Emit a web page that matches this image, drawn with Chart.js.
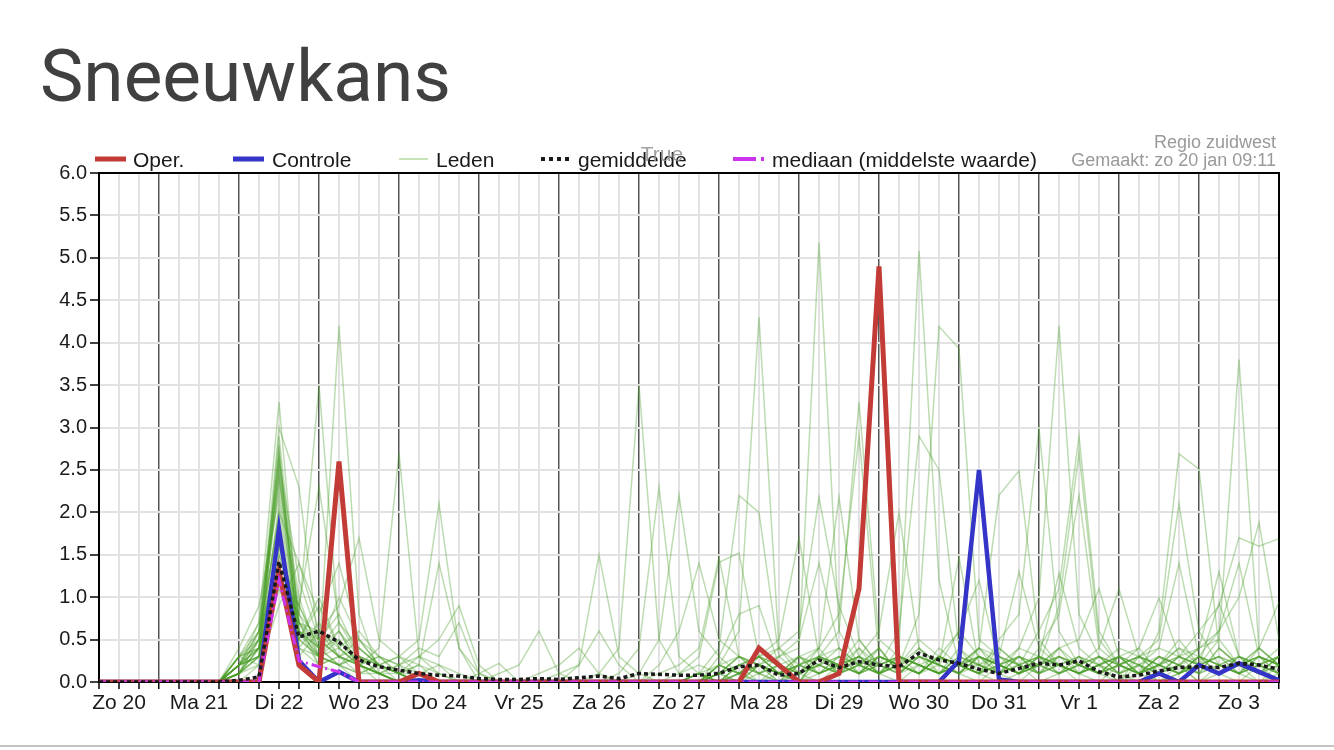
<!DOCTYPE html>
<html lang="nl">
<head>
<meta charset="utf-8">
<title>Sneeuwkans</title>
<script src="https://cdn.jsdelivr.net/npm/chart.js@4.4.1/dist/chart.umd.min.js"></script>
<style>
    html, body { margin: 0; padding: 0; background: #fff; }
    body { width: 1334px; height: 750px; position: relative; overflow: hidden; }
    h1 {
        position: absolute; left: 40px; top: 40px; margin: 0;
        font-family: Roboto, "Noto Sans", sans-serif; font-weight: 400;
        font-size: 73px; line-height: 73px; color: #404040;
    }
    #sneeuw { position: absolute; left: 0; top: 0; }
    .rule { position: absolute; left: 0; top: 745px; width: 1334px; height: 2px; background: #c4c4c4; }
</style>
</head>
<body>
<h1>Sneeuwkans</h1>
<canvas id="sneeuw" width="1334" height="750"></canvas>
<div class="rule"></div>

<script>
    "use strict";

    // Days on the x axis (6-hourly steps, Zo 20 06:00 .. Ma 4 00:00)
    var dayNames = ['Zo 20', 'Ma 21', 'Di 22', 'Wo 23', 'Do 24', 'Vr 25', 'Za 26', 'Zo 27',
                    'Ma 28', 'Di 29', 'Wo 30', 'Do 31', 'Vr 1', 'Za 2', 'Zo 3', 'Ma 4'];
    var dayHours = ['00', '06', '12', '18'];
    var yTicks = [0, 0.5, 1, 1.5, 2, 2.5, 3, 3.5, 4, 4.5, 5, 5.5, 6];

    var seriesNames = ['Oper.', 'Controle', 'Leden', 'gemiddelde', 'mediaan (middelste waarde)'];
    var regioText = 'Regio zuidwest';
    var gemaaktText = 'Gemaakt: zo 20 jan 09:11';

    // Operationele run
    var oper = [0,0,0,0,0,0,0,0,0,1.3, .2,0,2.6,0,0,0,.1,0,0,0, 0,0,0,0,0,0,0,0,0,0,
                0,0,0,.4,.2,0,0,.1,1.1,4.9, 0,0,0,0,0,0,0,0,0,0, 0,0,0,0,0,0,0,0,0,0];

    // Controle run
    var controle = [0,0,0,0,0,0,0,0,0,1.8, .25,0,.12,0,0,0,.02,0,0,0, 0,0,0,0,0,0,0,0,0,0,
                    0,0,0,0,0,0,0,0,0,0, 0,0,0,.25,2.5,.03,0,0,0,0, 0,0,0,.1,0,.2,.1,.22,.12,.02];

    // Ensemble gemiddelde
    var gemiddelde = [0,0,0,0,0,0,0,.02,.06,1.42, .53,.6,.47,.26,.18,.14,.1,.08,.07,.04,
                      .03,.03,.04,.03,.05,.07,.04,.1,.09,.08, .08,.1,.18,.2,.08,.1,.26,.17,.24,.2,
                      .18,.34,.26,.22,.15,.1,.16,.22,.2,.25, .12,.06,.08,.13,.17,.18,.17,.22,.2,.15];

    // Ensemble mediaan
    var mediaan = [0,0,0,0,0,0,0,0,0,1.2, .25,.18,.12,0,0,0,0,0,0,0, 0,0,0,0,0,0,0,0,0,0,
                   0,0,0,0,0,0,0,0,0,0, 0,0,0,0,0,0,0,0,0,0, 0,0,0,0,0,0,0,0,0,0];

    // Leden (ensemble members)
    var lid01 = [0,0,0,0,0,0,0,.2,.7,3.3, .6,.2,.1,0,0,0,0,0,0,0, 0,0,0,0,0,0,0,0,0,0, 0,.1,.3,.2,0,.1,.4,.8,2.9,.3, .2,.5,.3,.1,0,.2,.1,.3,.2,0, 0,0,.1,.2,.4,.3,.1,0,.2,.1];
    var lid02 = [0,0,0,0,0,0,0,.1,.5,3.0, 2.3,.4,.2,0,0,0,0,0,0,0, 0,0,0,0,0,0,0,0,0,0, 0,0,.2,.3,.1,0,.2,.1,.3,.6, 2.0,.4,.2,.6,.3,.1,0,.2,.1,.3, .2,0,0,.1,.3,.2,.5,.2,.1,0];
    var lid03 = [0,0,0,0,0,0,0,.3,.4,1.2, .8,3.5,.6,.2,0,0,0,0,0,.1, .22,0,0,0,0,0,0,0,0,0, .1,0,0,.2,.1,0,.3,.4,.2,.1, .4,5.08,1.2,.2,.2,.4,.2,.1,.3,.2, .1,0,.2,0,.1,.3,.2,.1,.4,.2];
    var lid04 = [0,0,0,0,0,0,0,0,.2,1.5, .6,.3,4.2,.8,.1,0,0,0,0,0, 0,0,0,0,0,0,0,0,0,0, 0,.2,.1,0,0,.3,.1,.2,.5,.2, .6,2.9,2.5,.4,.1,0,.1,.2,.4,.1, 0,.2,.1,.3,.2,0,.1,.2,.1,.3];
    var lid05 = [0,0,0,0,0,0,0,.1,.3,2.6, 1.2,.5,.3,.2,.4,2.7,.3,.1,0,0, 0,0,0,0,0,0,0,0,0,0, 0,0,.1,.3,.2,.1,0,.2,.3,.1, .2,.8,4.19,3.93,.5,.3,.2,0,.1,.2, .3,.1,0,.2,.1,.2,.3,.2,0,.1];
    var lid06 = [0,0,0,0,0,0,0,.2,.6,2.4, .9,.4,.7,.3,.2,.3,.5,2.1,.4,.1, 0,0,0,0,0,0,0,0,0,0, 0,.1,0,.2,.4,.1,.2,.3,.1,.2, .3,.1,.2,1.47,.2,.1,.3,.1,.2,.3, .1,.2,.1,0,.2,.1,.4,.2,.3,.2];
    var lid07 = [0,0,0,0,0,0,0,.4,.9,2.2, .7,.6,.9,1.7,.5,.3,.2,1.4,.4,0, 0,0,0,0,0,0,0,0,0,0, 0,0,.2,.1,0,.2,.3,.1,.2,.4, .1,.2,.3,.6,1.2,.2,.1,.3,.2,.1, .2,.3,.1,.2,.5,.2,.1,.3,.2,0];
    var lid08 = [0,0,0,0,0,0,0,.1,.4,2.0, 1.4,.8,1.4,.5,.2,.1,0,0,0,0, 0,0,0,0,0,0,0,0,0,0, .1,0,0,.1,.2,0,.1,.3,.2,.1, 0,.2,.1,.2,.4,2.2,2.49,.5,.2,.1, .3,.2,.4,.1,0,.2,.1,.3,.2,.4];
    var lid09 = [0,0,0,0,0,0,0,.2,.3,1.8, .5,1.0,.4,.6,.3,.2,.3,.5,.9,.2, 0,0,0,0,0,0,0,0,0,0, 0,.1,.2,0,.1,.3,.2,.1,.4,.2, .1,.3,.2,.1,.4,.3,1.3,.4,.2,.1, .2,0,.3,.2,.1,.3,.2,.1,0,.2];
    var lid10 = [0,0,0,0,0,0,0,.1,.2,2.7, .6,.3,.5,.2,.1,0,.1,0,0,0, 0,0,0,0,0,0,0,0,0,0, 0,0,.1,.2,0,.1,.2,.4,.1,.3, .2,.1,.4,.2,.1,.5,.8,2.99,.6,.2, .1,.3,.2,.1,.2,0,.2,.1,.3,.2];
    var lid11 = [0,0,0,0,0,0,0,.3,.5,1.6, .7,.4,1.0,.5,.3,.2,.4,.3,.7,.1, 0,0,0,0,0,0,0,0,0,0, 0,.2,.1,.3,.1,0,.3,.2,.1,.2, .3,.2,.1,.3,.2,.1,.4,1.0,4.2,.8, .3,.1,.2,0,.1,.3,.2,.1,.2,.3];
    var lid12 = [0,0,0,0,0,0,0,.2,.6,2.5, 1.0,.3,.2,.4,.2,.1,.2,.1,0,0, .1,.2,.6,.1,0,0,0,0,0,0, 0,.1,.3,.1,.2,.1,.2,.1,.3,.1, .2,.4,.1,.2,.3,.2,.4,.3,1.28,.4, .2,.3,.1,.2,.3,.2,.1,.2,.4,.2];
    var lid13 = [0,0,0,0,0,0,0,.2,.4,1.2, .9,2.3,.7,.4,.2,.3,.1,.2,0,0, 0,0,0,0,0,0,0,0,0,0, 0,0,.1,0,.2,.3,.1,.2,.1,.3, .2,.1,.3,.2,.1,.4,.2,.6,1.1,2.9, .6,.2,.1,.3,.2,.1,.2,.3,.1,.2];
    var lid14 = [0,0,0,0,0,0,0,.3,.2,.9, 1.4,.6,.3,.5,.2,.1,.3,.2,.1,0, 0,0,.1,.2,.4,.1,0,0,0,0, 0,.1,0,.2,.1,.2,.4,.1,.2,.1, .3,.2,.1,.4,.2,.1,.3,.2,.9,2.7, .5,.2,.3,.1,.2,.3,.1,.2,.1,.3];
    var lid15 = [0,0,0,0,0,0,0,.1,.4,2.8, .4,.2,.3,.2,.1,.2,.1,0,0,0, 0,0,0,0,.2,1.5,.3,.1,0,0, 0,.2,.1,.3,.2,.1,.3,.2,.1,.4, .1,.3,.2,.1,.3,.2,.1,.4,.8,2.2, .4,.2,.1,.3,.2,.1,.4,.2,.3,.1];
    var lid16 = [0,0,0,0,0,0,0,.2,.3,1.4, .6,.5,.8,.3,.2,.1,.2,0,0,0, 0,0,0,.1,.2,.6,.2,0,0,0, .1,0,.2,.1,.2,0,.3,.2,.4,.1, .2,.1,.3,.2,.1,.2,.3,.1,.4,.5, 1.1,.3,.2,.1,.3,.2,.1,.2,.3,.1];
    var lid17 = [0,0,0,0,0,0,0,.1,.5,2.3, .8,.3,.2,.3,.1,0,0,0,0,0, 0,0,0,0,0,.1,.4,3.5,.5,.1, .2,.1,.2,.3,.1,.2,.1,.3,.2,.1, .3,.2,.1,.2,.4,.1,.2,.3,.1,.2, .4,1.1,.3,.2,.1,.2,.3,.1,.2,.3];
    var lid18 = [0,0,0,0,0,0,0,.3,.6,1.9, .5,.9,.4,.2,.3,.1,0,0,0,0, 0,0,0,0,0,0,.1,.4,2.3,.3, .1,.2,.3,.1,0,.2,.1,.2,.3,.2, .1,.4,.2,.1,.3,.2,.1,.2,.4,.2, .1,.3,.4,.99,.3,.2,.1,.2,.3,.2];
    var lid19 = [0,0,0,0,0,0,0,.2,.3,2.1, .7,.5,.3,.4,.2,.1,.1,0,0,0, 0,0,0,0,0,0,0,.1,.5,2.2, .6,.3,.1,.2,.1,.3,.2,.1,.2,.3, .2,.1,.3,.2,.1,.2,.3,.1,.2,.1, .3,.2,.1,.6,2.69,2.51,.4,.2,.1,.3];
    var lid20 = [0,0,0,0,0,0,0,.1,.4,1.7, .6,.4,.5,.2,.1,0,0,0,0,0, 0,0,0,0,0,0,0,0,.1,.2, .4,1.47,.3,.2,.1,.2,.3,.1,.2,.4, .1,.3,.2,.1,.3,.2,.1,.3,.2,.1, .2,.4,.3,.5,2.1,.6,.2,.1,.3,.2];
    var lid21 = [0,0,0,0,0,0,0,.2,.5,2.5, .3,.6,.4,.2,.1,.1,0,0,0,0, 0,0,0,0,0,0,0,0,0,.1, .3,1.41,1.52,.3,.1,.2,.1,.2,.3,.1, .2,.3,.1,.2,.1,.3,.2,.1,.2,.3, .1,.2,.3,.4,1.4,.3,.2,.1,.2,.1];
    var lid22 = [0,0,0,0,0,0,0,.1,.3,1.5, .9,.4,.6,.3,.2,.1,0,0,0,0, 0,0,0,0,0,0,0,0,0,0, .1,.4,2.2,2.0,.3,.1,.2,.3,.1,.2, .3,.2,.1,.3,.2,.1,.3,.2,.1,.2, .3,.1,.2,.1,.3,.4,1.3,.3,.2,.1];
    var lid23 = [0,0,0,0,0,0,0,.3,.7,2.6, .5,.3,.2,.1,.2,.1,0,0,0,0, 0,0,0,0,0,0,0,0,0,0, 0,.3,.8,.9,.2,.1,.3,.2,.1,.3, .2,.1,.3,.2,.4,.2,.1,.3,.2,.1, .2,.3,.1,.2,.4,.2,.93,.3,.1,.2];
    var lid24 = [0,0,0,0,0,0,0,.2,.4,1.3, .4,.7,.3,.2,.1,0,0,0,0,0, 0,0,0,0,0,0,0,0,0,0, 0,.2,.6,4.3,.4,.2,.1,.2,.3,.1, .2,.3,.2,.1,.3,.2,.1,.2,.3,.2, .1,.2,.3,.1,.2,.4,.5,3.8,.4,.2];
    var lid25 = [0,0,0,0,0,0,0,.1,.3,2.9, .7,.2,.3,.1,.2,0,0,0,0,0, 0,0,0,0,0,0,0,0,0,0, .1,0,.2,.3,.5,1.7,.3,.2,.1,.3, .2,.1,.3,.2,.1,.3,.2,.1,.3,.2, .1,.3,.2,.4,.3,.6,.9,1.7,1.6,1.69];
    var lid26 = [0,0,0,0,0,0,0,.2,.5,2.0, .6,.4,.2,.3,.1,.2,0,0,0,0, 0,0,0,0,0,0,0,0,0,0, 0,.1,.2,.1,.3,.4,5.18,.6,.2,.1, .3,.2,.1,.3,.2,.1,.2,.3,.1,.2, .3,.2,.1,.3,.2,.4,.6,1.4,.3,.2];
    var lid27 = [0,0,0,0,0,0,0,.3,.4,2.4, .8,.5,.3,.2,.3,.1,0,0,0,0, 0,0,0,0,0,0,0,0,0,0, 0,.2,.1,.3,.4,.6,2.18,.9,.3,.2, .1,.3,.2,.1,.2,.3,.1,.2,.3,.2, .1,.2,.3,.2,.1,.3,.6,1.0,1.88,.5];
    var lid28 = [0,0,0,0,0,0,0,.2,.3,1.1, .5,.3,.6,.2,.1,0,0,0,0,0, 0,0,0,0,0,0,0,0,0,0, .1,0,.1,.2,.3,.5,1.4,.4,.2,.3, .2,.1,.3,.2,.1,.2,.3,.2,.1,.3, .2,.1,.2,.3,.1,.2,.3,.2,.4,.94];
    var lid29 = [0,0,0,0,0,0,0,.1,.6,2.7, .4,.3,.2,.1,.1,0,0,0,0,0, 0,0,0,0,0,0,0,0,.2,.6, 1.4,.5,.3,.2,.1,.3,.4,2.18,.5,.2, .3,.2,.1,.2,.3,.1,.2,.3,.2,.1, .2,.3,.1,.2,.3,.1,.2,.3,.2,.1];
    var lid30 = [0,0,0,0,0,0,0,.2,.4,1.6, .7,.3,.4,.2,.1,0,0,0,0,0, 0,0,0,0,0,0,0,0,0,0, 0,.1,.3,.2,.1,.2,.3,.6,3.3,.5, .3,.2,.1,.2,.3,.2,.1,.2,.3,.1, .2,.1,.3,.2,.1,.2,.3,.1,.2,.3];

    var leden = [lid01, lid02, lid03, lid04, lid05, lid06, lid07, lid08, lid09, lid10,
                 lid11, lid12, lid13, lid14, lid15, lid16, lid17, lid18, lid19, lid20,
                 lid21, lid22, lid23, lid24, lid25, lid26, lid27, lid28, lid29, lid30];


    // Colours
    var operColor = '#c23b36';
    var controleColor = '#3434c8';
    var ledenColor = 'rgba(70, 155, 35, .35)';
    var gemColor = '#1a1a1a';
    var medColor = '#cc33ee';
    var fontFamily = '"Liberation Sans", Arial, sans-serif';


    // Time labels for the category axis
    var timeLabels = [];
    dayNames.forEach(function (d) {
        dayHours.forEach(function (h) {
            timeLabels.push(d + ' ' + h + ':00');
        });
    });
    timeLabels = timeLabels.slice(1, 1 + oper.length);


    // Datasets (first one is drawn on top)
    var datasets = [
        { label: seriesNames[3], data: gemiddelde, borderColor: gemColor, borderWidth: 3.5, borderDash: [4, 3] },
        { label: seriesNames[4], data: mediaan, borderColor: medColor, borderWidth: 3, borderDash: [10, 4, 2, 4] },
        { label: seriesNames[0], data: oper, borderColor: operColor, borderWidth: 5 },
        { label: seriesNames[1], data: controle, borderColor: controleColor, borderWidth: 4.5 }
    ];
    leden.forEach(function (m) {
        datasets.push({ label: seriesNames[2], data: m, borderColor: ledenColor, borderWidth: 1.5 });
    });


    // Frame round the plot area
    var framePlugin = {
        id: 'frame',
        beforeDatasetsDraw: function (chart) {
            var a = chart.chartArea, ctx = chart.ctx;
            ctx.save();
            ctx.strokeStyle = '#000';
            ctx.lineWidth = 2;
            ctx.strokeRect(a.left, a.top, a.right - a.left, a.bottom - a.top);
            ctx.restore();
        }
    };


    // Legend row and header texts
    var headerPlugin = {
        id: 'header',
        afterDraw: function (chart) {
            var ctx = chart.ctx;
            ctx.save();

            function swatch(x1, x2, color, width, dash) {
                ctx.beginPath();
                ctx.strokeStyle = color;
                ctx.lineWidth = width;
                ctx.setLineDash(dash);
                ctx.moveTo(x1, 159);
                ctx.lineTo(x2, 159);
                ctx.stroke();
                ctx.setLineDash([]);
            }

            ctx.font = '21px ' + fontFamily;
            ctx.fillStyle = '#1a1a1a';
            ctx.textAlign = 'left';
            ctx.textBaseline = 'alphabetic';

            swatch(95, 126, operColor, 5, []);
            ctx.fillText(seriesNames[0], 133, 167);
            swatch(233, 264, controleColor, 5, []);
            ctx.fillText(seriesNames[1], 272, 167);
            swatch(399, 428, 'rgba(120, 190, 80, .55)', 1.5, []);
            ctx.fillText(seriesNames[2], 436, 167);
            swatch(541, 571, gemColor, 4, [4, 4]);
            ctx.fillText(seriesNames[3], 578, 167);
            swatch(733, 756, medColor, 4, []);
            swatch(761, 764, medColor, 4, []);
            ctx.fillText(seriesNames[4], 772, 167);

            ctx.fillStyle = 'rgba(150, 150, 150, .9)';
            ctx.textAlign = 'center';
            ctx.fillText('True', 662, 161);

            ctx.font = '18px ' + fontFamily;
            ctx.fillStyle = '#999';
            ctx.textAlign = 'right';
            ctx.fillText(regioText, 1276, 148);
            ctx.fillText(gemaaktText, 1276, 166);

            ctx.restore();
        }
    };


    // Chart
    var ctx1 = document.getElementById('sneeuw').getContext('2d');
    var myChart1 = new Chart(ctx1, {
        type: 'line',
        data: {
            labels: timeLabels,
            datasets: datasets
        },
        plugins: [framePlugin, headerPlugin],
        options: {
            responsive: false,
            animation: false,
            events: [],
            elements: {
                point: { radius: 0 },
                line: { tension: 0, fill: false, borderCapStyle: 'butt', borderJoinStyle: 'miter' }
            },
            layout: { padding: { top: 173, right: 55, left: 0, bottom: 0 } },
            plugins: {
                legend: { display: false },
                tooltip: { enabled: false }
            },
            scales: {
                x: {
                    type: 'category',
                    offset: false,
                    border: { color: '#000', width: 2 },
                    grid: {
                        color: function (c) {
                            return timeLabels[c.index] && timeLabels[c.index].slice(-5) === '00:00' ? '#555' : '#e2e2e2';
                        },
                        lineWidth: function (c) {
                            return timeLabels[c.index] && timeLabels[c.index].slice(-5) === '00:00' ? 1.5 : 2;
                        },
                        tickColor: '#000',
                        tickWidth: 1.5,
                        tickLength: 7
                    },
                    ticks: {
                        autoSkip: false,
                        maxRotation: 0,
                        minRotation: 0,
                        padding: 2,
                        color: '#1a1a1a',
                        font: { family: fontFamily, size: 21 },
                        callback: function (value, index) {
                            var l = timeLabels[index];
                            return l.slice(-5) === '12:00' ? l.slice(0, -6) : '';
                        }
                    },
                    afterFit: function (scale) { scale.height = 68; }
                },
                y: {
                    min: 0,
                    max: 6,
                    border: { color: '#000', width: 2 },
                    grid: { color: '#e2e2e2', lineWidth: 2, tickColor: '#000', tickWidth: 1.5, tickLength: 9 },
                    afterBuildTicks: function (scale) {
                        scale.ticks = yTicks.map(function (v) { return { value: v }; });
                    },
                    ticks: {
                        padding: 3,
                        color: '#1a1a1a',
                        font: { family: fontFamily, size: 20 },
                        callback: function (value) { return Number(value).toFixed(1); }
                    },
                    afterFit: function (scale) { scale.width = 99; }
                }
            }
        }
    });
</script>
</body>
</html>
